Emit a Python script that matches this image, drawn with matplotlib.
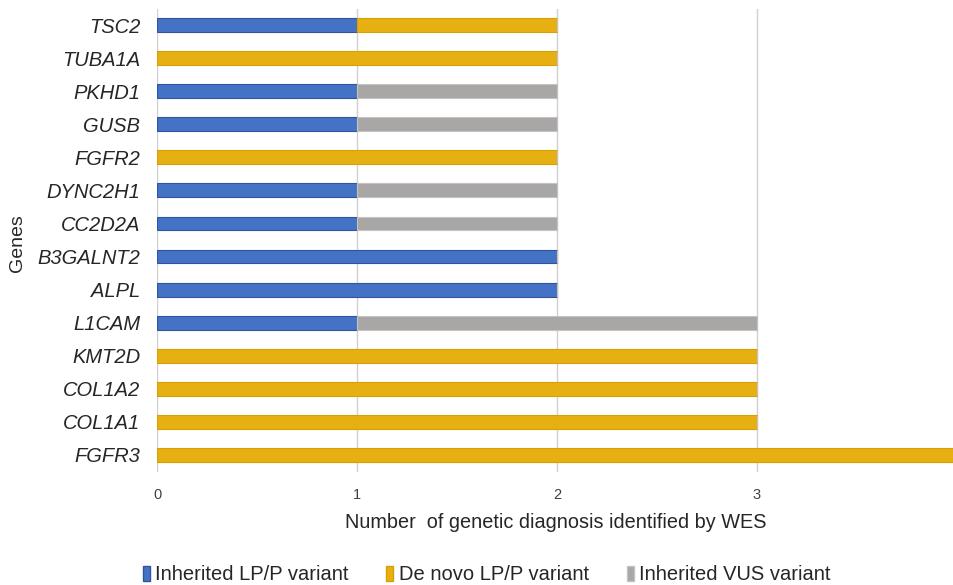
import numpy as np
import matplotlib.pyplot as plt
from matplotlib.patches import Patch

plt.rcParams['font.family'] = ['Liberation Sans', 'DejaVu Sans']

genes = ["TSC2", "TUBA1A", "PKHD1", "GUSB", "FGFR2", "DYNC2H1", "CC2D2A",
         "B3GALNT2", "ALPL", "L1CAM", "KMT2D", "COL1A2", "COL1A1", "FGFR3"]
inherited = [1, 0, 1, 1, 0, 1, 1, 2, 2, 1, 0, 0, 0, 0]
de_novo = [1, 2, 0, 0, 2, 0, 0, 0, 0, 0, 3, 3, 3, 4]
vus = [0, 0, 1, 1, 0, 1, 1, 0, 0, 2, 0, 0, 0, 0]
series_names = ["Inherited LP/P variant", "De novo LP/P variant", "Inherited VUS variant"]

colors = ["#4472C4", "#E6B012", "#A9A6A6"]
edges = ["#2F55A0", "#D9A000", "#C4C2C2"]

fig = plt.figure(figsize=(9.54, 5.85), dpi=100)
W, H = 954, 585
ax = fig.add_axes([157 / W, 1 - 471.5 / H, (W - 157) / W, (471.5 - 8.5) / H])

y = np.arange(len(genes))
inh = np.array(inherited)
dn = np.array(de_novo)
vs = np.array(vus)
h = 0.42
ax.barh(y, inh, height=h, color=colors[0], edgecolor=edges[0], linewidth=0.8, zorder=3)
ax.barh(y, dn, left=inh, height=h, color=colors[1], edgecolor=edges[1], linewidth=0.8, zorder=3)
ax.barh(y, vs, left=inh + dn, height=h, color=colors[2], edgecolor=edges[2], linewidth=0.8, zorder=3)

ax.set_ylim(len(genes) - 0.5, -0.5)
ax.set_xlim(0, (W - 157) / 200)
ax.set_yticks(y)
ax.set_yticklabels(genes, fontstyle='italic', fontsize=14.5, color='#262626')
ax.set_xticks([0, 1, 2, 3])
ax.set_xticklabels(["0", "1", "2", "3"], fontsize=10.5, color='#404040')
ax.text(4, -0.032, "4", transform=ax.get_xaxis_transform(), ha='center', va='top',
        fontsize=10.5, color='#404040', clip_on=False)
ax.tick_params(axis='both', length=0)
ax.tick_params(axis='x', pad=12)
ax.tick_params(axis='y', pad=12)
ax.grid(axis='x', color='#D0D0D0', linewidth=1, zorder=0)
for s in ax.spines.values():
    s.set_visible(False)

ax.set_xlabel("Number  of genetic diagnosis identified by WES", fontsize=14.3, color='#262626', labelpad=8)
fig.text(18 / W, 1 - 243 / H, "Genes", rotation=90, ha='center', va='center', fontsize=14, color='#262626')

handles = [Patch(facecolor=c, edgecolor=e) for c, e in zip(colors, edges)]
fig.legend(handles, series_names, loc='center', bbox_to_anchor=(0.51, 1 - 575 / H), ncol=3,
           frameon=False, fontsize=14.5, handlelength=0.35, handleheight=0.7, handletextpad=0.25,
           columnspacing=1.9, labelcolor='#262626')

fig.savefig("out.png", dpi=100)
